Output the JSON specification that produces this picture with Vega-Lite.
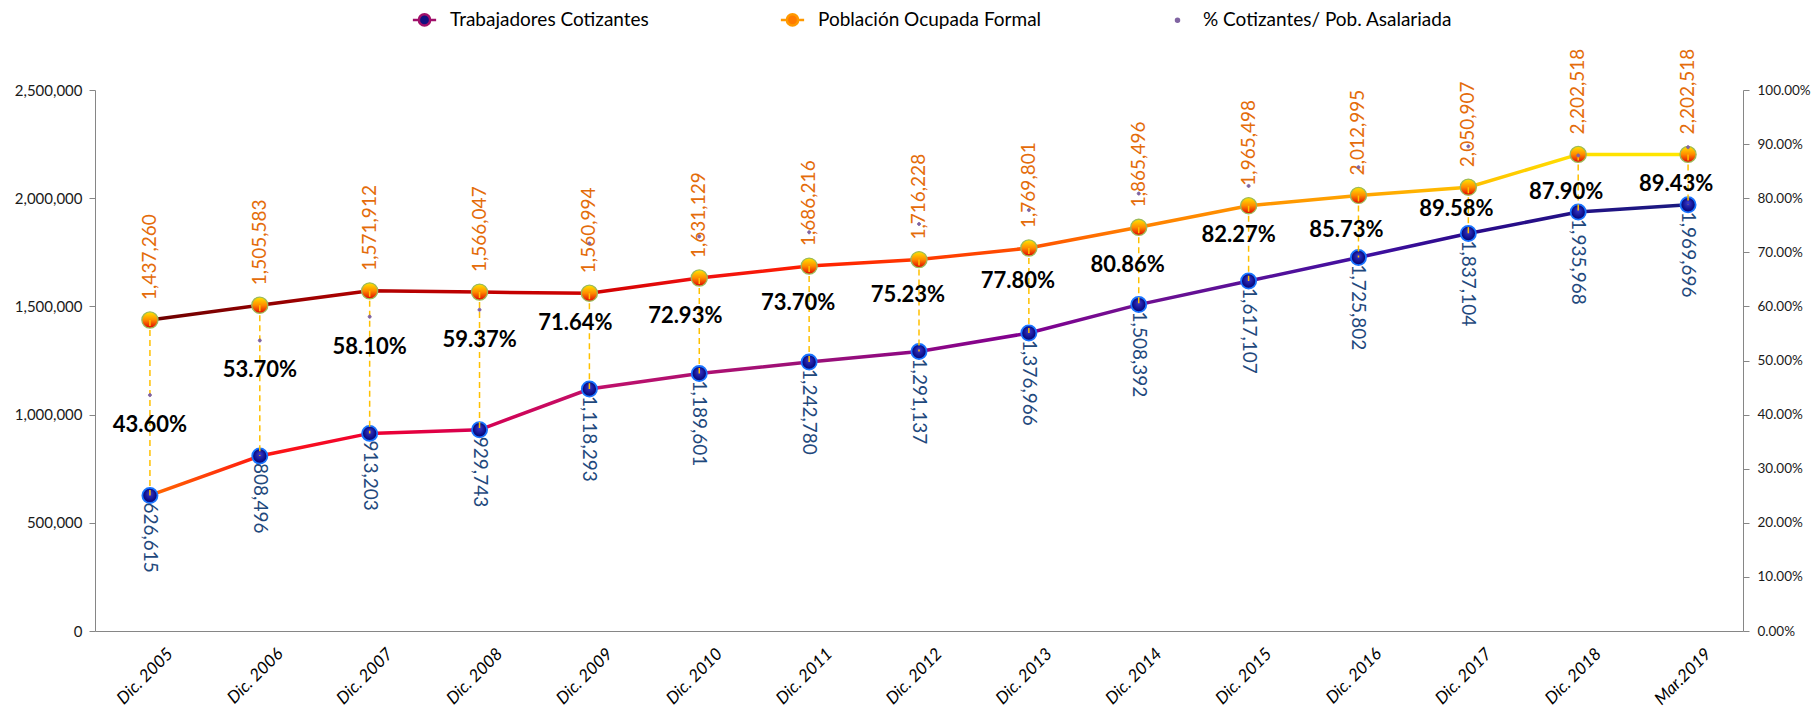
{
  "$schema": "https://vega.github.io/schema/vega-lite/v6.json",
  "width": 1648,
  "height": 541,
  "autosize": "none",
  "padding": {"left": 95, "top": 90, "right": 73, "bottom": 82},
  "config": {
    "font": "Lato",
    "view": {"stroke": null},
    "axis": {"grid": false, "domainColor": "#868686", "tickColor": "#868686", "labelColor": "#1a1a1a", "labelFont": "Lato"},
    "axisLeft": {"labelFontSize": 15, "tickSize": 6, "labelPadding": 7, "title": null},
    "axisRight": {"labelFontSize": 13.5, "tickSize": 6, "labelPadding": 8, "title": null}
  },
  "data": {
    "values": [
      {"periodo": "Dic. 2005", "trab": 626615, "pob": 1437260, "pct": 0.436},
      {"periodo": "Dic. 2006", "trab": 808496, "pob": 1505583, "pct": 0.537},
      {"periodo": "Dic. 2007", "trab": 913203, "pob": 1571912, "pct": 0.581},
      {"periodo": "Dic. 2008", "trab": 929743, "pob": 1566047, "pct": 0.5937},
      {"periodo": "Dic. 2009", "trab": 1118293, "pob": 1560994, "pct": 0.7164},
      {"periodo": "Dic. 2010", "trab": 1189601, "pob": 1631129, "pct": 0.7293},
      {"periodo": "Dic. 2011", "trab": 1242780, "pob": 1686216, "pct": 0.737},
      {"periodo": "Dic. 2012", "trab": 1291137, "pob": 1716228, "pct": 0.7523},
      {"periodo": "Dic. 2013", "trab": 1376966, "pob": 1769801, "pct": 0.778},
      {"periodo": "Dic. 2014", "trab": 1508392, "pob": 1865496, "pct": 0.8086},
      {"periodo": "Dic. 2015", "trab": 1617107, "pob": 1965498, "pct": 0.8227},
      {"periodo": "Dic. 2016", "trab": 1725802, "pob": 2012995, "pct": 0.8573},
      {"periodo": "Dic. 2017", "trab": 1837104, "pob": 2050907, "pct": 0.8958},
      {"periodo": "Dic. 2018", "trab": 1935968, "pob": 2202518, "pct": 0.879},
      {"periodo": "Mar.2019", "trab": 1969696, "pob": 2202518, "pct": 0.8943}
    ]
  },
  "encoding": {
    "x": {
      "field": "periodo", "type": "nominal", "sort": null,
      "scale": {"type": "point", "padding": 0.5},
      "axis": {"title": null, "labelAngle": -45, "labelFontSize": 17, "labelFontStyle": "italic", "labelColor": "#000000", "ticks": false, "labelPadding": 20, "labelOffset": 20, "labelAlign": "right", "labelBaseline": "middle"}
    }
  },
  "layer": [
    {
      "layer": [
        {
          "mark": {"type": "line", "strokeWidth": 3.5, "stroke": {"gradient": "linear", "x1": 0, "y1": 0, "x2": 1, "y2": 0, "stops": [
            {"offset": 0, "color": "#FF6A00"}, {"offset": 0.07, "color": "#FF1A10"}, {"offset": 0.14, "color": "#F00030"},
            {"offset": 0.21, "color": "#D60050"}, {"offset": 0.29, "color": "#C0106A"}, {"offset": 0.43, "color": "#9A1078"},
            {"offset": 0.57, "color": "#800090"}, {"offset": 0.64, "color": "#701090"}, {"offset": 0.79, "color": "#4010A0"},
            {"offset": 0.86, "color": "#2A0A8A"}, {"offset": 1, "color": "#1A1A80"}]}},
          "encoding": {"y": {"field": "trab", "type": "quantitative", "scale": {"domain": [0, 2500000], "nice": false},
            "axis": {"title": null, "values": [0, 500000, 1000000, 1500000, 2000000, 2500000], "labelExpr": "format(datum.value, ',')"}}}
        },
        {
          "mark": {"type": "line", "strokeWidth": 3.5, "stroke": {"gradient": "linear", "x1": 0, "y1": 0, "x2": 1, "y2": 0, "stops": [
            {"offset": 0, "color": "#6B0000"}, {"offset": 0.14, "color": "#B00000"}, {"offset": 0.29, "color": "#D00000"},
            {"offset": 0.36, "color": "#F01010"}, {"offset": 0.43, "color": "#FF2000"}, {"offset": 0.57, "color": "#FF5000"},
            {"offset": 0.64, "color": "#FF8000"}, {"offset": 0.79, "color": "#FFA500"}, {"offset": 0.86, "color": "#FFC000"},
            {"offset": 0.93, "color": "#FFE000"}, {"offset": 1, "color": "#FFE800"}]}},
          "encoding": {"y": {"field": "pob", "type": "quantitative", "scale": {"domain": [0, 2500000], "nice": false},
            "axis": {"title": null, "values": [0, 500000, 1000000, 1500000, 2000000, 2500000], "labelExpr": "format(datum.value, ',')"}}}
        },
        {
          "mark": {"type": "point", "filled": true, "opacity": 1, "size": 230, "strokeWidth": 1.8, "stroke": "#1A75FF",
            "fill": {"gradient": "radial", "x1": 0.5, "y1": 0.35, "r1": 0, "x2": 0.5, "y2": 0.5, "r2": 0.5, "stops": [{"offset": 0, "color": "#3A3AD0"}, {"offset": 1, "color": "#000070"}]}},
          "encoding": {"y": {"field": "trab", "type": "quantitative", "scale": {"domain": [0, 2500000], "nice": false},
            "axis": {"title": null, "values": [0, 500000, 1000000, 1500000, 2000000, 2500000], "labelExpr": "format(datum.value, ',')"}}}
        },
        {
          "mark": {"type": "point", "filled": true, "opacity": 1, "size": 260, "strokeWidth": 1.3, "stroke": "#9BBB59",
            "fill": {"gradient": "linear", "x1": 0, "y1": 0, "x2": 0, "y2": 1, "stops": [{"offset": 0, "color": "#FFE600"}, {"offset": 0.5, "color": "#FF8C00"}, {"offset": 1, "color": "#E00000"}]}},
          "encoding": {"y": {"field": "pob", "type": "quantitative", "scale": {"domain": [0, 2500000], "nice": false},
            "axis": {"title": null, "values": [0, 500000, 1000000, 1500000, 2000000, 2500000], "labelExpr": "format(datum.value, ',')"}}}
        },
        {
          "mark": {"type": "rule", "stroke": "#FFC000", "strokeWidth": 1.5, "strokeDash": [6, 4]},
          "encoding": {"y": {"field": "pob", "type": "quantitative", "scale": {"domain": [0, 2500000], "nice": false},
            "axis": {"title": null, "values": [0, 500000, 1000000, 1500000, 2000000, 2500000], "labelExpr": "format(datum.value, ',')"}}, "y2": {"field": "trab"}}
        },
        {
          "mark": {"type": "text", "angle": 90, "align": "left", "baseline": "middle", "dx": 7, "fontSize": 19, "color": "#1F497D"},
          "encoding": {"y": {"field": "trab", "type": "quantitative", "scale": {"domain": [0, 2500000], "nice": false},
            "axis": {"title": null, "values": [0, 500000, 1000000, 1500000, 2000000, 2500000], "labelExpr": "format(datum.value, ',')"}}, "text": {"field": "trab", "type": "quantitative", "format": ","}}
        },
        {
          "mark": {"type": "text", "angle": 270, "align": "left", "baseline": "middle", "dx": 20, "fontSize": 19, "color": "#E46C0A"},
          "encoding": {"y": {"field": "pob", "type": "quantitative", "scale": {"domain": [0, 2500000], "nice": false},
            "axis": {"title": null, "values": [0, 500000, 1000000, 1500000, 2000000, 2500000], "labelExpr": "format(datum.value, ',')"}}, "text": {"field": "pob", "type": "quantitative", "format": ","}}
        }
      ]
    },
    {
      "layer": [
        {
          "mark": {"type": "point", "filled": true, "opacity": 1, "strokeWidth": 1, "size": 225},
          "encoding": {
            "y": {"field": "pct", "type": "quantitative", "scale": {"domain": [0, 1]},
              "axis": {"title": null, "orient": "right", "values": [0, 0.1, 0.2, 0.3, 0.4, 0.5, 0.6, 0.7, 0.8, 0.9, 1], "format": ".2%"}},
            "color": {
              "datum": "% Cotizantes/ Pob. Asalariada",
              "scale": {"domain": ["Trabajadores Cotizantes", "Población Ocupada Formal", "% Cotizantes/ Pob. Asalariada"], "range": ["#101080", "#FF7A00", "#8064A2"]},
              "legend": {
                "title": null, "orient": "none", "direction": "horizontal", "legendX": 320, "legendY": -80,
                "labelFontSize": 19, "labelFont": "Lato", "labelColor": "#000000", "labelLimit": 0, "labelOffset": 16, "columnPadding": 126,
                "symbolStrokeWidth": 2.5, "symbolOpacity": 1, "symbolSize": 225
              }
            },
            "shape": {
              "datum": "% Cotizantes/ Pob. Asalariada",
              "scale": {"domain": ["Trabajadores Cotizantes", "Población Ocupada Formal", "% Cotizantes/ Pob. Asalariada"], "range": ["M-1.55,0H-0.75M0.75,0H1.55M-0.75,0A0.75,0.75 0 1,0 0.75,0A0.75,0.75 0 1,0 -0.75,0Z", "M-1.55,0H-0.75M0.75,0H1.55M-0.75,0A0.75,0.75 0 1,0 0.75,0A0.75,0.75 0 1,0 -0.75,0Z", "M-0.2,0A0.2,0.2 0 1,0 0.2,0A0.2,0.2 0 1,0 -0.2,0Z"]}
            },
            "stroke": {
              "datum": "% Cotizantes/ Pob. Asalariada",
              "scale": {"domain": ["Trabajadores Cotizantes", "Población Ocupada Formal", "% Cotizantes/ Pob. Asalariada"], "range": ["#A0106A", "#FF9900", "#8064A2"]}
            }
          }
        },
        {
          "transform": [{"filter": {"field": "periodo", "oneOf": ["Dic. 2005", "Dic. 2006", "Dic. 2007", "Dic. 2008"]}}],
          "mark": {"type": "text", "fontSize": 22, "fontWeight": "bold", "color": "#000000", "dy": 30, "baseline": "middle"},
          "encoding": {"y": {"field": "pct", "type": "quantitative"}, "text": {"field": "pct", "type": "quantitative", "format": ".2%"}}
        },
        {
          "transform": [{"filter": {"field": "periodo", "oneOf": ["Dic. 2009", "Dic. 2010"]}}],
          "mark": {"type": "text", "fontSize": 22, "fontWeight": "bold", "color": "#000000", "dy": 80, "dx": -14, "baseline": "middle"},
          "encoding": {"y": {"field": "pct", "type": "quantitative"}, "text": {"field": "pct", "type": "quantitative", "format": ".2%"}}
        },
        {
          "transform": [{"filter": {"field": "periodo", "oneOf": ["Dic. 2011", "Dic. 2012", "Dic. 2013", "Dic. 2014"]}}],
          "mark": {"type": "text", "fontSize": 22, "fontWeight": "bold", "color": "#000000", "dy": 71, "dx": -11, "baseline": "middle"},
          "encoding": {"y": {"field": "pct", "type": "quantitative"}, "text": {"field": "pct", "type": "quantitative", "format": ".2%"}}
        },
        {
          "transform": [{"filter": {"field": "periodo", "oneOf": ["Dic. 2015"]}}],
          "mark": {"type": "text", "fontSize": 22, "fontWeight": "bold", "color": "#000000", "dy": 49, "dx": -10, "baseline": "middle"},
          "encoding": {"y": {"field": "pct", "type": "quantitative"}, "text": {"field": "pct", "type": "quantitative", "format": ".2%"}}
        },
        {
          "transform": [{"filter": {"field": "periodo", "oneOf": ["Dic. 2016", "Dic. 2017"]}}],
          "mark": {"type": "text", "fontSize": 22, "fontWeight": "bold", "color": "#000000", "dy": 63, "dx": -12, "baseline": "middle"},
          "encoding": {"y": {"field": "pct", "type": "quantitative"}, "text": {"field": "pct", "type": "quantitative", "format": ".2%"}}
        },
        {
          "transform": [{"filter": {"field": "periodo", "oneOf": ["Dic. 2018", "Mar.2019"]}}],
          "mark": {"type": "text", "fontSize": 22, "fontWeight": "bold", "color": "#000000", "dy": 37, "dx": -12, "baseline": "middle"},
          "encoding": {"y": {"field": "pct", "type": "quantitative"}, "text": {"field": "pct", "type": "quantitative", "format": ".2%"}}
        }
      ]
    }
  ],
  "resolve": {"scale": {"y": "independent"}}
}
